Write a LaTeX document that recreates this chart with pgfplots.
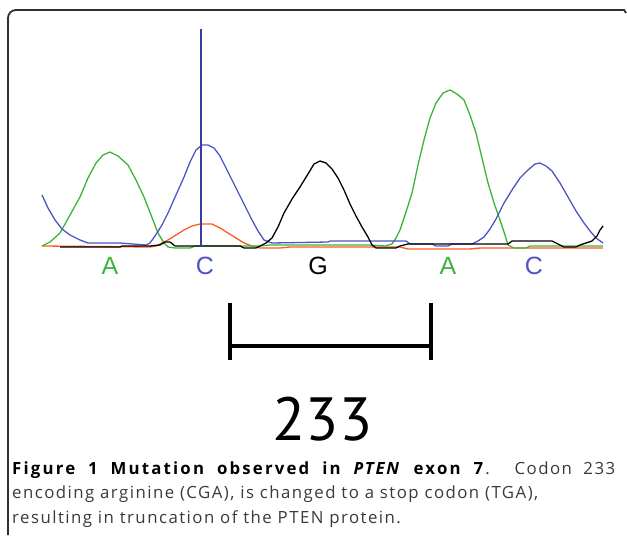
\documentclass[border=0pt]{standalone}
\usepackage{fontspec}
\setmainfont{Open Sans}
\newfontfamily\capfont{Open Sans}[LetterSpace=8.7, BoldFeatures={LetterSpace=13}, BoldItalicFeatures={LetterSpace=10}]
\newfontfamily\labfont{Liberation Sans}
\newfontfamily\numfont{PT Sans}
\usepackage{pgfplots}
\pgfplotsset{compat=1.18}
\definecolor{trgreen}{HTML}{3CB43C}
\definecolor{trblue}{HTML}{4D55C5}
\definecolor{trorange}{HTML}{FF5A1E}
\definecolor{cursor}{HTML}{3C3CA0}
\definecolor{frame}{HTML}{303030}
\definecolor{captext}{HTML}{3A3A3A}
\begin{document}
\begin{tikzpicture}
\begin{axis}[
    width=627bp, height=535bp, scale only axis,
    xmin=0, xmax=627, ymin=0, ymax=535,
    y dir=reverse,
    hide axis, clip=false,
    every axis plot/.append style={line width=1.3bp, mark=none},
]
% keep the whole page as bounding box
\path (axis cs:0,0) rectangle (axis cs:627,535);
% frame
\draw[frame, line width=1.8bp, rounded corners=8bp]
    (axis cs:8,535) -- (axis cs:8,10) -- (axis cs:622,10);
\draw[frame, line width=1.8bp] (axis cs:621,10) -- (axis cs:624,10) -- (axis cs:626,13);

% orange (T)
\addplot[trorange] coordinates {
 (42,246)(150,247)(156,246)(162,243)(168,240)(176,235)(184,230)(192,226)
 (200,224)(212,224)(220,228)(228,233)(236,238)(244,243)(252,246)(260,248)
 (280,248)(290,247)(400,247)(408,249)(470,249)(480,248)(603,248)
};
% green (A)
\addplot[trgreen] coordinates {
 (42,246)(44,245)(50,242)(60,233)(70,215)(80,197)(88,178)(96,163)(103,155)
 (110,152)(118,156)(128,165)(136,180)(144,197)(151,215)(158,233)(164,243)
 (168,247)(175,248)(190,248)(195,246)(260,246)(270,245)(370,245)(385,246)
 (392,244)(396,238)(400,230)(406,212)(412,193)(418,165)(424,140)(430,118)
 (436,103)(443,93)(450,90)(457,94)(464,100)(470,115)(476,133)(482,158)
 (488,183)(494,203)(500,220)(505,235)(508,245)(514,248)(526,248)(530,246)(603,246)
};
% blue (C)
\addplot[trblue] coordinates {
 (42,195)(48,208)(55,220)(62,229)(70,235)(80,240)(88,243)(120,243)(146,245)
 (150,243)(155,236)(162,225)(168,213)(176,195)(184,177)(190,162)(196,150)
 (202,145)(208,145)(214,148)(220,156)(226,168)(232,180)(240,196)(246,208)
 (252,220)(258,231)(264,240)(272,243)(328,242)(330,241)(406,241)(410,244)
 (432,244)(436,246)(448,246)(452,244)(472,244)(478,241)(484,237)(490,229)
 (496,219)(504,203)(512,190)(520,178)(528,170)(535,164)(540,163)(546,166)
 (552,171)(560,183)(568,197)(576,211)(584,223)(590,231)(596,238)(603,243)
};
% black (G)
\addplot[black] coordinates {
 (60,247)(120,247)(122,246)(150,246)(160,245)(165,242)(170,242)(175,246)
 (240,246)(244,248)(256,248)(260,246)(266,243)(272,238)(278,227)(284,213)
 (292,199)(300,187)(308,174)(314,164)(320,161)(326,163)(332,169)(338,178)
 (344,190)(350,204)(356,216)(362,227)(368,237)(372,245)(376,248)(396,248)
 (400,246)(408,244)(508,244)(512,241)(552,241)(558,244)(564,247)(576,247)
 (580,245)(586,243)(592,241)(597,236)(600,230)(603,226)
};
% cursor
\addplot[cursor, line width=1.8bp] coordinates {(201,29)(201,247)};

% base calls
\node[trgreen, font=\labfont\fontsize{25bp}{25bp}\selectfont] at (axis cs:110,266) {A};
\node[trblue,  font=\labfont\fontsize{25bp}{25bp}\selectfont] at (axis cs:205,266) {C};
\node[black,   font=\labfont\fontsize{25bp}{25bp}\selectfont] at (axis cs:318,266) {G};
\node[trgreen, font=\labfont\fontsize{25bp}{25bp}\selectfont] at (axis cs:448,266) {A};
\node[trblue,  font=\labfont\fontsize{25bp}{25bp}\selectfont] at (axis cs:534,266) {C};

% codon bracket
\addplot[black, line width=3.5bp] coordinates {(230,303)(230,360)};
\addplot[black, line width=3.5bp] coordinates {(431,303)(431,360)};
\addplot[black, line width=3.5bp] coordinates {(230,346)(431,346)};
\node[font=\numfont\fontsize{61bp}{61bp}\selectfont, anchor=base] at (axis cs:322.5,440) {233};

% caption
\node[anchor=base west, inner sep=0pt, captext, font=\capfont\fontsize{16.8bp}{20bp}\selectfont] at (axis cs:12,474)
  {\makebox[603bp][s]{\textcolor{black}{\textbf{Figure 1 Mutation observed in \textit{PTEN} exon 7}}. Codon 233}};
\node[anchor=base west, inner sep=0pt, captext, font=\capfont\fontsize{16.8bp}{20bp}\selectfont] at (axis cs:12,498)
  {encoding arginine (CGA), is changed to a stop codon (TGA),};
\node[anchor=base west, inner sep=0pt, captext, font=\capfont\fontsize{16.8bp}{20bp}\selectfont] at (axis cs:12,523)
  {resulting in truncation of the PTEN protein.};
\end{axis}
\end{tikzpicture}
\end{document}
